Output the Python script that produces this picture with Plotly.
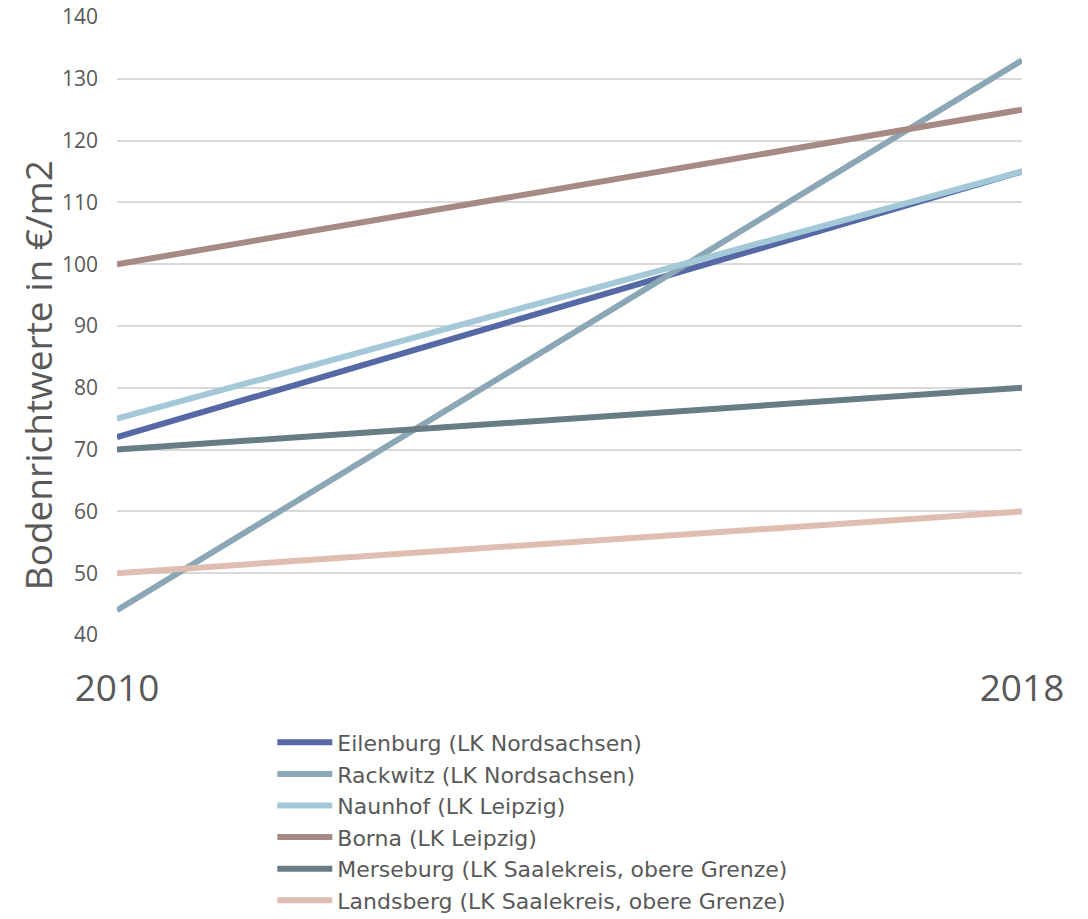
import plotly.graph_objects as go

years = [2010, 2018]
series_names = [
    "Eilenburg (LK Nordsachsen)",
    "Rackwitz (LK Nordsachsen)",
    "Naunhof (LK Leipzig)",
    "Borna (LK Leipzig)",
    "Merseburg (LK Saalekreis, obere Grenze)",
    "Landsberg (LK Saalekreis, obere Grenze)",
]
eilenburg = [72, 115]
rackwitz = [44, 133]
naunhof = [75, 115]
borna = [100, 125]
merseburg = [70, 80]
landsberg = [50, 60]
colors = ["#5469A6", "#8BA7B5", "#A5C8D8", "#A78A83", "#677C84", "#E0BDB1"]
y_ticks = [40, 50, 60, 70, 80, 90, 100, 110, 120, 130, 140]
y_title = "Bodenrichtwerte in €/m2"

values = [eilenburg, rackwitz, naunhof, borna, merseburg, landsberg]
FONT = "Open Sans, Lato, sans-serif"
TXT = "#595959"

fig = go.Figure()
for name, vals, col in zip(series_names, values, colors):
    fig.add_trace(go.Scatter(x=years, y=vals, mode="lines", name=name,
                             line=dict(color=col, width=6)))

fig.update_layout(
    width=1088, height=919,
    margin=dict(l=117, r=66, t=17, b=284, autoexpand=False),
    paper_bgcolor="white", plot_bgcolor="white",
    font=dict(family=FONT, color=TXT),
    showlegend=True,
    legend=dict(x=0.1716, y=-0.14, xanchor="left", yanchor="top",
                font=dict(size=22, color=TXT, family="DejaVu Sans, sans-serif"),
                tracegroupgap=0, itemwidth=55, bgcolor="rgba(0,0,0,0)"),
    xaxis=dict(range=[2010, 2018], tickvals=years, ticktext=[str(y) for y in years],
               showgrid=False, zeroline=False, showline=False,
               tickfont=dict(size=37, color=TXT), ticks="", ticklabelstandoff=28),
    yaxis=dict(range=[40, 140], tickvals=y_ticks, showgrid=True, gridcolor="#D9D9D9",
               gridwidth=2, zeroline=False, showline=False, ticks="",
               tickfont=dict(size=21, color=TXT), ticklabelstandoff=18),
    annotations=[dict(text=y_title, textangle=-90, xref="paper", yref="paper",
                      x=-0.0875, y=0.42, xanchor="center", yanchor="middle",
                      showarrow=False, font=dict(size=37, color=TXT))],
)

fig.write_html("out.html")
